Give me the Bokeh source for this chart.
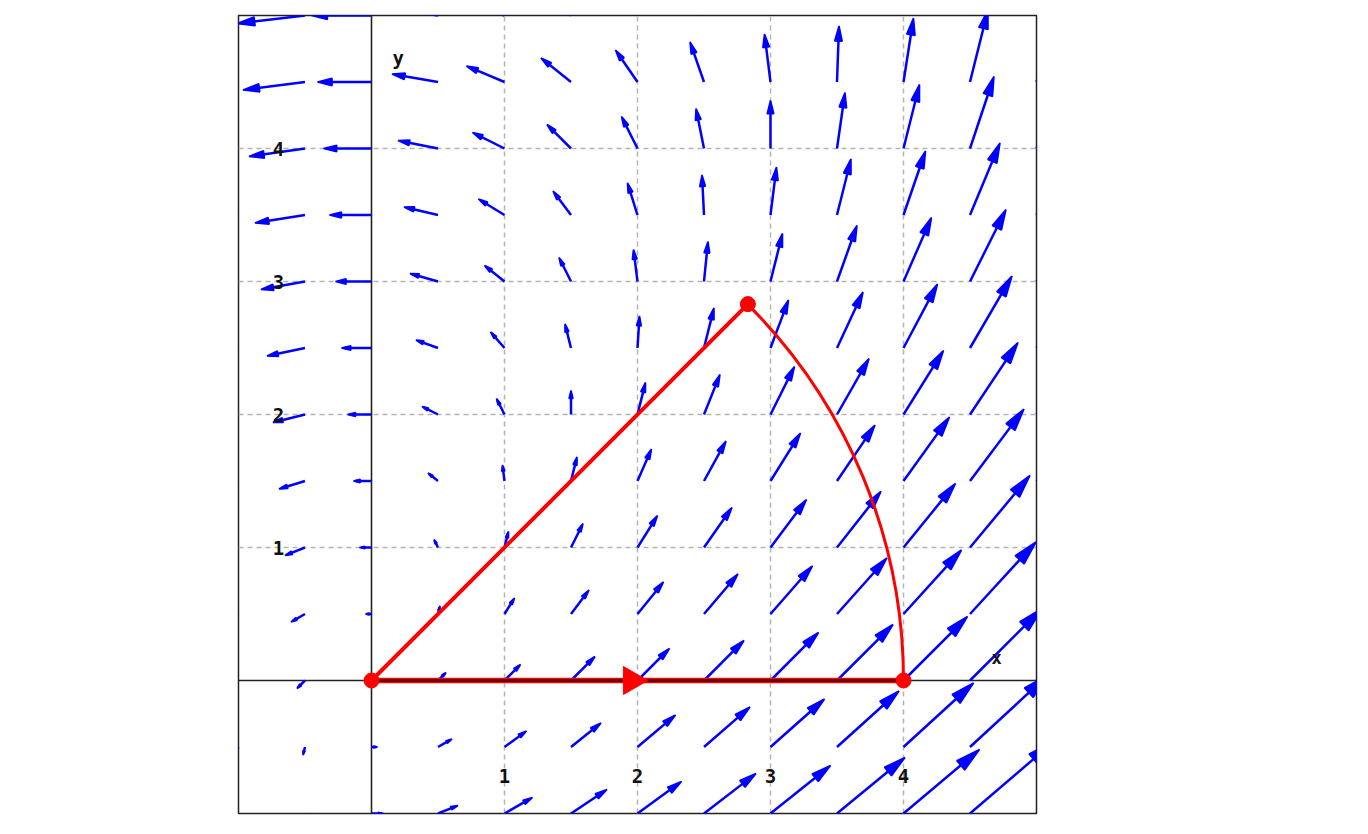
import numpy as np
from bokeh.plotting import figure
from bokeh.models import Range1d, FixedTicker, Span
from bokeh.core.properties import value
from bokeh.embed import file_html
from bokeh.resources import INLINE

# ---- data -------------------------------------------------------------
# sample positions of the vector field (same in x and y)
grid_x = [-1, -0.5, 0, 0.5, 1, 1.5, 2, 2.5, 3, 3.5, 4, 4.5, 5]
grid_y = [-1, -0.5, 0, 0.5, 1, 1.5, 2, 2.5, 3, 3.5, 4, 4.5, 5]

# horizontal field component, one row per grid_y value
field_u = [
    [-0.25, 0.25, 0.75, 1.25, 1.75, 2.25, 2.75, 3.25, 3.75, 4.25, 4.75, 5.25, 5.75],
    [-0.625, -0.125, 0.375, 0.875, 1.375, 1.875, 2.375, 2.875, 3.375, 3.875, 4.375, 4.875, 5.375],
    [-1, -0.5, 0, 0.5, 1, 1.5, 2, 2.5, 3, 3.5, 4, 4.5, 5],
    [-1.375, -0.875, -0.375, 0.125, 0.625, 1.125, 1.625, 2.125, 2.625, 3.125, 3.625, 4.125, 4.625],
    [-1.75, -1.25, -0.75, -0.25, 0.25, 0.75, 1.25, 1.75, 2.25, 2.75, 3.25, 3.75, 4.25],
    [-2.125, -1.625, -1.125, -0.625, -0.125, 0.375, 0.875, 1.375, 1.875, 2.375, 2.875, 3.375, 3.875],
    [-2.5, -2, -1.5, -1, -0.5, 0, 0.5, 1, 1.5, 2, 2.5, 3, 3.5],
    [-2.875, -2.375, -1.875, -1.375, -0.875, -0.375, 0.125, 0.625, 1.125, 1.625, 2.125, 2.625, 3.125],
    [-3.25, -2.75, -2.25, -1.75, -1.25, -0.75, -0.25, 0.25, 0.75, 1.25, 1.75, 2.25, 2.75],
    [-3.625, -3.125, -2.625, -2.125, -1.625, -1.125, -0.625, -0.125, 0.375, 0.875, 1.375, 1.875, 2.375],
    [-4, -3.5, -3, -2.5, -2, -1.5, -1, -0.5, 0, 0.5, 1, 1.5, 2],
    [-4.375, -3.875, -3.375, -2.875, -2.375, -1.875, -1.375, -0.875, -0.375, 0.125, 0.625, 1.125, 1.625],
    [-4.75, -4.25, -3.75, -3.25, -2.75, -2.25, -1.75, -1.25, -0.75, -0.25, 0.25, 0.75, 1.25],
]
# vertical field component, one value per grid_x column (same in every row)
field_v_by_column = [-1, -0.5, 0, 0.5, 1, 1.5, 2, 2.5, 3, 3.5, 4, 4.5, 5]

# closed path: corners and arc
path_corner_x = [0, 4, 2.83]
path_corner_y = [0, 0, 2.83]
arc_radius = 4
arc_end_deg = 45
direction_marker_x = [1.955]
direction_marker_y = [0]

tick_values = [1, 2, 3, 4]
tick_labels = ["1", "2", "3", "4"]
axis_names = ["x", "y"]

# ---- figure -----------------------------------------------------------
p = figure(width=1038, height=816, output_backend="svg", toolbar_location=None,
           x_range=Range1d(-1, 5), y_range=Range1d(-1, 5),
           min_border_left=238, min_border_right=2, min_border_top=15, min_border_bottom=3)
p.axis.visible = False
p.outline_line_color = "#222222"
p.outline_line_width = 1.5
p.background_fill_color = "white"
p.border_fill_color = "white"

for g in (p.xgrid, p.ygrid):
    g.ticker = FixedTicker(ticks=tick_values)
    g.grid_line_color = "#b4b4b4"
    g.grid_line_width = 1.5
    g.grid_line_dash = "5 4"

p.add_layout(Span(location=0, dimension="width", line_color="#222222",
                  line_width=1.6, level="underlay"))
p.add_layout(Span(location=0, dimension="height", line_color="#222222",
                  line_width=1.6, level="underlay"))

# ---- vector field -----------------------------------------------------
scale = 16.0 / 133.0
X, Y = np.meshgrid(np.array(grid_x, float), np.array(grid_y, float))
U = np.array(field_u, float) * scale
V = np.tile(np.array(field_v_by_column, float), (len(grid_y), 1)) * scale
xs0, ys0 = X.ravel(), Y.ravel()
du, dv = U.ravel(), V.ravel()
L = np.hypot(du, dv)
keep = L > 1e-9
xs0, ys0, du, dv, L = xs0[keep], ys0[keep], du[keep], dv[keep], L[keep]
ux, uy = du / L, dv / L
hl = np.minimum(0.22 * L + 0.02, 0.75 * L)
hw = 0.25 * hl
tipx, tipy = xs0 + du, ys0 + dv
basex, basey = tipx - ux * hl, tipy - uy * hl

p.segment(x0=xs0, y0=ys0, x1=tipx - ux * 0.3 * hl, y1=tipy - uy * 0.3 * hl,
          line_color="#0000ff", line_width=2.5)
head_xs = [[tx, bx - uy_ * w, bx + uy_ * w] for tx, bx, uy_, w in zip(tipx, basex, uy, hw)]
head_ys = [[ty, by + ux_ * w, by - ux_ * w] for ty, by, ux_, w in zip(tipy, basey, ux, hw)]
p.patches(head_xs, head_ys, fill_color="#0000ff", line_color="#0000ff", line_width=1.6)

# ---- red path ---------------------------------------------------------
p.line([path_corner_x[0], path_corner_x[2]], [path_corner_y[0], path_corner_y[2]],
       line_color="#ff0000", line_width=4)
p.arc(x=[path_corner_x[0]], y=[path_corner_y[0]], radius=arc_radius,
      start_angle=0, end_angle=np.deg2rad(arc_end_deg),
      line_color="#ff0000", line_width=3)
p.line([path_corner_x[0], path_corner_x[1]], [path_corner_y[0], path_corner_y[1]],
       line_color="#ff0000", line_width=5.5)
p.line([path_corner_x[0], path_corner_x[1]], [path_corner_y[0], path_corner_y[1]],
       line_color="#6e0000", line_width=3)
p.scatter(x=direction_marker_x, y=direction_marker_y, marker="triangle",
          angle=-np.pi / 2, size=28, fill_color="#ff0000", line_color="#ff0000")
p.scatter(x=path_corner_x, y=path_corner_y, size=15, fill_color="#ff0000",
          line_color="#ff0000")

# ---- labels -----------------------------------------------------------
font = value("DejaVu Sans Mono")
p.text(x=tick_values, y=[-0.72] * 4, text=tick_labels, text_font=font,
       text_font_size="19px", text_font_style="bold", text_align="center",
       text_baseline="middle", text_color="#111111")
p.text(x=[-0.7] * 4, y=tick_values, text=tick_labels, text_font=font,
       text_font_size="19px", text_font_style="bold", text_align="center",
       text_baseline="middle", text_color="#111111")
p.text(x=[4.7], y=[0.17], text=[axis_names[0]], text_font=font,
       text_font_size="17px", text_font_style="bold", text_align="center",
       text_baseline="middle", text_color="#111111")
p.text(x=[0.2], y=[4.68], text=[axis_names[1]], text_font=font,
       text_font_size="19px", text_font_style="bold", text_align="center",
       text_baseline="middle", text_color="#111111")

open("out.html", "w").write(file_html(p, INLINE))
